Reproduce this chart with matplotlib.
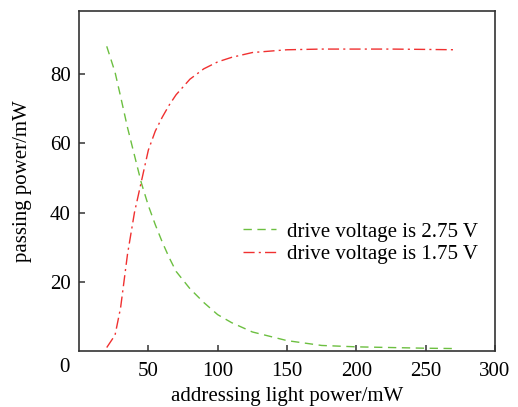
import matplotlib

matplotlib.use("Agg")
import matplotlib.pyplot as plt

# addressing light power (mW) and passing power (mW)
power_275 = [20, 26, 30, 35, 40, 45, 50, 55, 60, 65, 70, 80, 90, 100, 110, 125, 150, 175, 200, 225, 250, 272]
pass_275 = [88, 80.5, 73.5, 64.5, 56.5, 48.5, 42, 36.5, 31.5, 27, 23, 18, 14, 10.5, 8.2, 5.5, 3, 1.6, 1.2, 1.0, 0.8, 0.7]

power_175 = [20, 26, 30, 35, 40, 45, 50, 55, 60, 65, 70, 80, 90, 100, 110, 125, 150, 175, 200, 225, 250, 272]
pass_175 = [1, 4.6, 12.5, 28, 40, 49, 58, 63.5, 67.5, 71, 74, 78.5, 81.5, 83.5, 84.8, 86.2, 87.0, 87.2, 87.2, 87.2, 87.1, 87.0]

label_275 = "drive voltage is 2.75 V"
label_175 = "drive voltage is 1.75 V"
x_ticks = [50, 100, 150, 200, 250, 300]
y_ticks = [20, 40, 60, 80]

plt.rcParams["font.family"] = ["Liberation Serif", "DejaVu Serif"]
plt.rcParams["font.size"] = 15

fig = plt.figure(figsize=(5.18, 4.07), dpi=100)
ax = fig.add_axes([0.1525, 0.1376, 0.8031, 0.8354])

ax.plot(power_275, pass_275, color="#6cbf40", linewidth=1.0, dashes=(6, 4), label=label_275)
ax.plot(power_175, pass_175, color="#f03030", linewidth=1.0, dashes=(8, 3, 1.5, 3), label=label_175)

ax.set_xlim(0, 300)
ax.set_ylim(0, 98.2)
ax.set_xticks(x_ticks)
ax.set_yticks(y_ticks)
ax.tick_params(direction="in", length=4, width=1.1, color="#333333", pad=6)
ax.tick_params(axis="x", pad=8)
for sp in ax.spines.values():
    sp.set_color("#333333")
    sp.set_linewidth(1.2)

# shared origin label sits off the corner
ax.text(-0.036, -0.05, "0", transform=ax.transAxes, ha="center", va="center")

ax.set_xlabel("addressing light power/mW", labelpad=4)
ax.set_ylabel("passing power/mW", labelpad=13)

ax.legend(loc="upper left", bbox_to_anchor=(0.369, 0.41), frameon=False,
          handlelength=1.6, handletextpad=0.5, labelspacing=0.15, borderpad=0)

fig.savefig("out.png", dpi=100)
